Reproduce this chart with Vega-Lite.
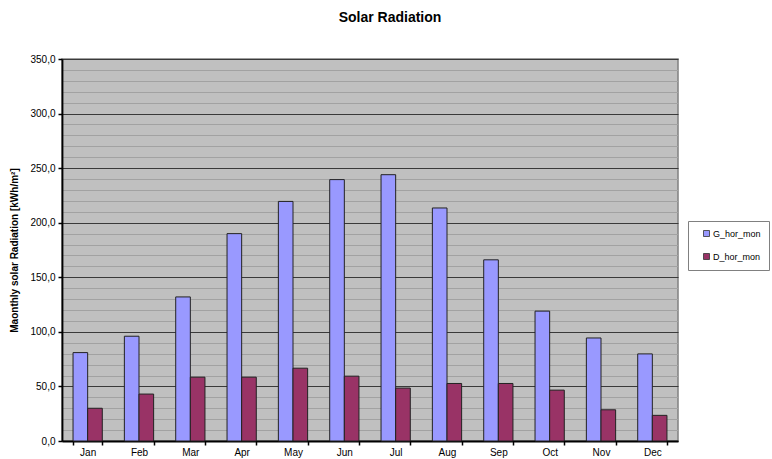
{
  "$schema": "https://vega.github.io/schema/vega-lite/v6.json",
  "autosize": "none",
  "padding": {"left": 62, "top": 59, "right": 94, "bottom": 18},
  "width": 616,
  "height": 382,
  "background": "white",
  "title": {
    "text": "Solar Radiation",
    "fontSize": 14,
    "fontWeight": "bold",
    "font": "Liberation Sans",
    "color": "black",
    "anchor": "middle",
    "dx": 20,
    "offset": 29
  },
  "config": {
    "font": "Liberation Sans",
    "view": {"fill": "#c0c0c0", "stroke": "#808080", "strokeWidth": 1.5}
  },
  "data": {
    "values": [
      {"month": "Jan", "series": "G_hor_mon", "value": 81},
      {"month": "Jan", "series": "D_hor_mon", "value": 30},
      {"month": "Feb", "series": "G_hor_mon", "value": 96},
      {"month": "Feb", "series": "D_hor_mon", "value": 43},
      {"month": "Mar", "series": "G_hor_mon", "value": 132},
      {"month": "Mar", "series": "D_hor_mon", "value": 58.5},
      {"month": "Apr", "series": "G_hor_mon", "value": 190},
      {"month": "Apr", "series": "D_hor_mon", "value": 58.5},
      {"month": "May", "series": "G_hor_mon", "value": 219.5},
      {"month": "May", "series": "D_hor_mon", "value": 66.7},
      {"month": "Jun", "series": "G_hor_mon", "value": 239.5},
      {"month": "Jun", "series": "D_hor_mon", "value": 59.4},
      {"month": "Jul", "series": "G_hor_mon", "value": 244},
      {"month": "Jul", "series": "D_hor_mon", "value": 48.5},
      {"month": "Aug", "series": "G_hor_mon", "value": 213.5},
      {"month": "Aug", "series": "D_hor_mon", "value": 52.7},
      {"month": "Sep", "series": "G_hor_mon", "value": 166},
      {"month": "Sep", "series": "D_hor_mon", "value": 52.7},
      {"month": "Oct", "series": "G_hor_mon", "value": 119},
      {"month": "Oct", "series": "D_hor_mon", "value": 46.6},
      {"month": "Nov", "series": "G_hor_mon", "value": 94.4},
      {"month": "Nov", "series": "D_hor_mon", "value": 28.6},
      {"month": "Dec", "series": "G_hor_mon", "value": 79.8},
      {"month": "Dec", "series": "D_hor_mon", "value": 23.5}
    ]
  },
  "mark": {"type": "bar", "stroke": "#222222", "strokeWidth": 1},
  "encoding": {
    "x": {
      "field": "month",
      "type": "nominal",
      "sort": ["Jan", "Feb", "Mar", "Apr", "May", "Jun", "Jul", "Aug", "Sep", "Oct", "Nov", "Dec"],
      "scale": {"paddingInner": 0.43, "paddingOuter": 0.215},
      "axis": {
        "title": null,
        "labelAngle": 0,
        "labelFontSize": 10,
        "labelColor": "black",
        "labelPadding": 2,
        "tickBand": "extent",
        "tickSize": 4,
        "tickColor": "black",
        "tickWidth": 1.5,
        "domainColor": "black",
        "domainWidth": 1.8,
        "grid": false
      }
    },
    "xOffset": {
      "field": "series",
      "type": "nominal",
      "sort": ["G_hor_mon", "D_hor_mon"],
      "scale": {"paddingInner": 0, "paddingOuter": 0}
    },
    "y": {
      "field": "value",
      "type": "quantitative",
      "scale": {"domain": [0, 350], "nice": false},
      "axis": {
        "title": "Maonthly solar Radiation [kWh/m²]",
        "titleFontSize": 10,
        "titleFontWeight": "bold",
        "titleColor": "black",
        "titlePadding": 10,
        "values": [0, 10, 20, 30, 40, 50, 60, 70, 80, 90, 100, 110, 120, 130, 140, 150, 160, 170, 180, 190, 200, 210, 220, 230, 240, 250, 260, 270, 280, 290, 300, 310, 320, 330, 340, 350],
        "labelExpr": "datum.value % 50 === 0 ? replace(format(datum.value, '.1f'), '.', ',') : ''",
        "labelFontSize": 10,
        "labelColor": "black",
        "labelPadding": 3,
        "tickSize": 4,
        "tickColor": "black",
        "tickWidth": 1.5,
        "tickOpacity": {"condition": {"test": "datum.value % 50 === 0", "value": 1}, "value": 0},
        "domainColor": "black",
        "domainWidth": 1.8,
        "grid": true,
        "gridColor": {"condition": {"test": "datum.value % 50 === 0", "value": "#3a3a3a"}, "value": "#a2a2a2"},
        "gridWidth": 1.2,
        "gridOpacity": 1
      }
    },
    "color": {
      "field": "series",
      "type": "nominal",
      "sort": ["G_hor_mon", "D_hor_mon"],
      "scale": {"domain": ["G_hor_mon", "D_hor_mon"], "range": ["#9999ff", "#993366"]},
      "legend": {
        "title": null,
        "orient": "none",
        "legendX": 626,
        "legendY": 162,
        "fillColor": "white",
        "strokeColor": "#808080",
        "padding": {"value": 8},
        "offset": 0,
        "symbolType": "square",
        "symbolSize": 36,
        "symbolStrokeColor": "#333333",
        "symbolStrokeWidth": 0.8,
        "symbolOffset": 6,
        "labelFontSize": 9,
        "labelColor": "black",
        "labelOffset": 2,
        "rowPadding": 12
      }
    }
  }
}
